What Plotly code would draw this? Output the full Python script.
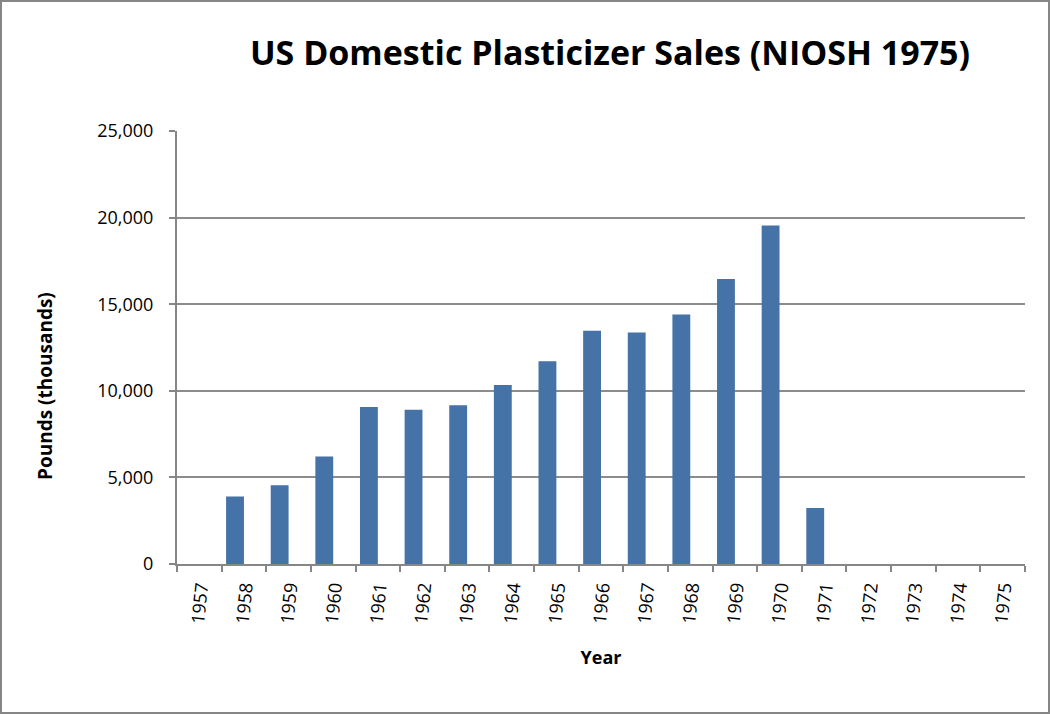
import plotly.graph_objects as go

years = [str(y) for y in range(1957, 1976)]
sales = [0, 3900, 4550, 6200, 9070, 8900, 9170, 10330, 11700, 13460,
         13370, 14410, 16460, 19540, 3240, 0, 0, 0, 0]
y_ticks = [0, 5000, 10000, 15000, 20000, 25000]
y_tick_labels = ["0", "5,000", "10,000", "15,000", "20,000", "25,000"]

W, H = 1050, 714
ML, MR, MT, MB = 177, 25, 131, 150
PW, PH = W - ML - MR, H - MT - MB

fig = go.Figure(go.Bar(
    x=years, y=sales,
    width=0.4, offset=-0.4,
    marker=dict(color="#4572A7", line=dict(width=0)),
))

def px2x(p):
    return (p - ML) / PW

def px2y(p):
    return (H - MB - p) / PH

fig.update_layout(
    width=W, height=H,
    margin=dict(l=ML, r=MR, t=MT, b=MB),
    paper_bgcolor="white", plot_bgcolor="white",
    showlegend=False,
    font=dict(family="Open Sans", color="#000000"),
    title=dict(text="<b>US Domestic Plasticizer Sales (NIOSH 1975)</b>",
               x=610 / W, xanchor="center", y=1 - 53 / H, yanchor="middle",
               font=dict(size=34, family="Open Sans", color="#000000")),
    xaxis=dict(
        type="category",
        tickangle=-84,
        ticks="outside", tickson="boundaries", ticklen=6, tickcolor="#868686",
        tickwidth=2,
        ticklabelstandoff=4,
        showline=True, linecolor="#868686", linewidth=2,
        showgrid=False,
        tickfont=dict(size=18, family="Open Sans"),
        title=dict(text="<b>Year</b>", font=dict(size=18), standoff=27),
    ),
    yaxis=dict(
        range=[0, 25000],
        tickvals=y_ticks, ticktext=y_tick_labels,
        ticks="outside", ticklen=6, tickcolor="#868686", tickwidth=2,
        ticklabelstandoff=12,
        showline=True, linecolor="#868686", linewidth=2,
        showgrid=True, gridcolor="#8c8c8c", gridwidth=1.5,
        zeroline=False,
        tickfont=dict(size=18, family="Open Sans"),
    ),
    annotations=[dict(text="<b>Pounds (thousands)</b>", textangle=-90,
                      xref="paper", yref="paper", x=px2x(45), y=px2y(386),
                      xanchor="center", yanchor="middle", showarrow=False,
                      font=dict(size=19, family="Open Sans", color="#000000"))],
    shapes=[dict(type="rect", xref="paper", yref="paper",
                 x0=px2x(1), x1=px2x(W - 1), y0=px2y(H - 1), y1=px2y(1),
                 line=dict(color="#868686", width=2), fillcolor="rgba(0,0,0,0)",
                 layer="above")],
)

fig.write_html("out.html", config={"displayModeBar": False},
               post_script="document.body.style.margin='0';document.body.style.overflow='hidden';")
